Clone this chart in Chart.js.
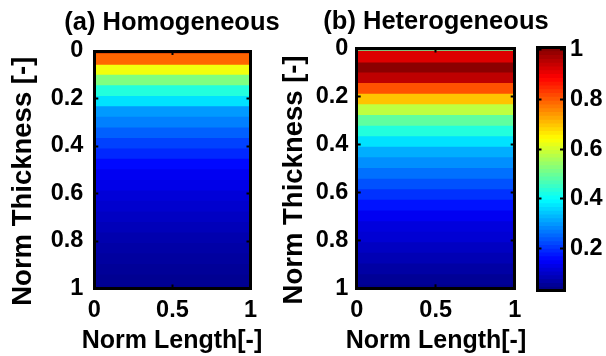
<!DOCTYPE html>
<html><head><meta charset="utf-8">
<script src="https://cdn.jsdelivr.net/npm/chart.js@4.4.1/dist/chart.umd.min.js"></script>
<style>
html,body{margin:0;padding:0;background:#fff;width:606px;height:356px;overflow:hidden;}
canvas{position:absolute;top:0;}
</style></head><body>
<canvas id="ca" width="344" height="356" style="left:0px"></canvas>
<canvas id="cb" width="332" height="356" style="left:270px"></canvas>
<canvas id="cc" width="86" height="356" style="left:520px"></canvas>
<script>
// Band boundaries along the normalised thickness (0 = surface, 1 = bottom)
const thickness = [0, 0.009, 0.058, 0.1, 0.144, 0.189, 0.233, 0.277, 0.322, 0.366, 0.41, 0.454, 0.498,
                   0.543, 0.587, 0.631, 0.676, 0.72, 0.764, 0.808, 0.852, 0.897, 0.941, 0.985, 1];
// Value in each band (one per interval of `thickness`)
const homogeneous = [0.98, 0.79, 0.63, 0.52, 0.43, 0.37, 0.30, 0.275, 0.245, 0.215, 0.19, 0.16,
                     0.14, 0.13, 0.115, 0.105, 0.095, 0.085, 0.075, 0.067, 0.06, 0.054, 0.048, 0.044];
const heterogeneous = [0.49, 0.92, 1.0, 0.95, 0.81, 0.70, 0.58, 0.49, 0.43, 0.37, 0.32, 0.29,
                       0.26, 0.23, 0.20, 0.17, 0.14, 0.12, 0.11, 0.094, 0.08, 0.065, 0.052, 0.042];
const thicknessTicks = [0, 0.2, 0.4, 0.6, 0.8, 1];
const lengthTicks = [0, 0.5, 1];
const colorTicks = [0.2, 0.4, 0.6, 0.8, 1];
const colorRange = [0.03, 1.01];
const panelTitles = ['(a) Homogeneous', '(b) Heterogeneous'];
const xLabel = 'Norm Length[-]';
const yLabel = 'Norm Thickness [-]';

Chart.defaults.font.family = "'Liberation Sans', Arial, sans-serif";
Chart.defaults.font.weight = 'bold';
Chart.defaults.color = '#000';

function jet(v) {
  let t = (v - colorRange[0]) / (colorRange[1] - colorRange[0]);
  t = Math.min(1, Math.max(0, t));
  const c = k => Math.round(255 * Math.min(1, Math.max(0, 1.5 - Math.abs(4 * t - k))));
  return 'rgb(' + c(3) + ',' + c(2) + ',' + c(1) + ')';
}

function bandSets(values) {
  // each band: its upper edge, filled down to the bottom of the axis; drawn top band first
  return values.map((v, k) => ({
    data: [{x: 0, y: thickness[k]}, {x: 1, y: thickness[k]}],
    backgroundColor: jet(v), borderWidth: 0, pointRadius: 0, fill: 'start'
  })).reverse();
}

const TL = -4; // inward tick marks
const borderOpt = {display: true, width: 3, color: '#000', z: 1};
const tickGrid = {display: true, drawOnChartArea: false, drawTicks: true, tickLength: TL, tickWidth: 2, tickColor: '#000', lineWidth: 3, z: 1};
const noGrid = {display: false, drawTicks: false, lineWidth: 3};
const setTicks = arr => s => { s.ticks = arr.map(v => ({value: v})); };
const fmt = v => String(v);
const tickFont = {size: 23.5, weight: 'bold'};

function panelOptions(title, cfg) {
  return {
    responsive: false, animation: false, events: [],
    layout: {padding: 0},
    plugins: {
      legend: {display: false}, tooltip: {enabled: false},
      title: {display: true, text: title, color: '#000',
              font: {size: 25.5, weight: 'bold', lineHeight: 1},
              padding: {top: cfg.titleTop, bottom: cfg.titleBottom}}
    },
    scales: {
      x: {type: 'linear', position: 'bottom', min: 0, max: 1,
          afterBuildTicks: setTicks(lengthTicks), afterFit: s => { s.height = cfg.xHeight - 28; },
          grid: tickGrid, border: borderOpt,
          ticks: {font: tickFont, color: '#000', padding: 8 - TL, maxRotation: 0, autoSkip: false, callback: fmt}},
      xName: {type: 'linear', position: 'bottom', fullSize: true, weight: 5, min: 0, max: 1, display: true,
              ticks: {display: false}, grid: noGrid, border: {display: false},
              afterFit: s => { s.height = 28; },
              title: {display: true, text: xLabel, color: '#000', font: {size: 25, weight: 'bold', lineHeight: 1}, padding: {top: 0, bottom: 2}}},
      y: {type: 'linear', position: 'left', reverse: true, min: 0, max: 1,
          afterBuildTicks: setTicks(thicknessTicks), afterFit: s => { s.width = cfg.yWidth; },
          grid: tickGrid, border: borderOpt,
          ticks: {font: tickFont, color: '#000', padding: cfg.yTickPad - TL, autoSkip: false, callback: fmt},
          title: {display: true, text: yLabel + '   ', color: '#000', font: {size: 27.5, weight: 'bold', lineHeight: 1}, padding: {top: cfg.yTitlePad, bottom: 0}}},
      xTop: {type: 'linear', position: 'top', min: 0, max: 1, display: true,
             afterBuildTicks: setTicks(lengthTicks),
             ticks: {display: false}, grid: tickGrid, border: borderOpt, afterFit: s => { s.height = 0; }},
      yRight: {type: 'linear', position: 'right', reverse: true, min: 0, max: 1, display: true,
               afterBuildTicks: setTicks(thicknessTicks),
               ticks: {display: false}, grid: tickGrid, border: borderOpt, afterFit: s => { s.width = cfg.rightWidth; }}
    }
  };
}

new Chart(document.getElementById('ca'), {
  type: 'line',
  data: {datasets: bandSets(homogeneous)},
  options: panelOptions(panelTitles[0], {rightWidth: 93.5, titleTop: 10, titleBottom: 15.5, xHeight: 67.5, yWidth: 94.3, yTickPad: 11, yTitlePad: 10})
});

new Chart(document.getElementById('cb'), {
  type: 'line',
  data: {datasets: bandSets(heterogeneous)},
  options: panelOptions(panelTitles[1], {rightWidth: 87.3, titleTop: 9, titleBottom: 14, xHeight: 67.7, yWidth: 86.7, yTickPad: 8.4, yTitlePad: 11})
});

// colour bar: 64 steps of the jet colour map
const levels = 64;
const cbarSets = [];
for (let i = 0; i < levels; i++) {
  const span = colorRange[1] - colorRange[0];
  const top = colorRange[0] + (i + 1) / levels * span;
  const mid = colorRange[0] + (i + 0.5) / levels * span;
  cbarSets.push({data: [{x: 0, y: top}, {x: 1, y: top}], backgroundColor: jet(mid), borderWidth: 0, pointRadius: 0, fill: 'start'});
}

new Chart(document.getElementById('cc'), {
  type: 'line',
  data: {datasets: cbarSets},
  options: {
    responsive: false, animation: false, events: [],
    layout: {padding: {left: 17.5, right: 0, top: 47.5, bottom: 65.5}},
    plugins: {legend: {display: false}, tooltip: {enabled: false}, title: {display: false}},
    scales: {
      x: {type: 'linear', position: 'bottom', min: 0, max: 1, ticks: {display: false}, grid: noGrid, border: borderOpt, afterFit: s => { s.height = 0; }},
      xTop: {type: 'linear', position: 'top', min: 0, max: 1, display: true, ticks: {display: false}, grid: noGrid, border: borderOpt, afterFit: s => { s.height = 0; }},
      yLeft: {type: 'linear', position: 'left', min: colorRange[0], max: colorRange[1], display: true,
              afterBuildTicks: setTicks(colorTicks),
              ticks: {display: false}, grid: tickGrid, border: borderOpt, afterFit: s => { s.width = 0; }},
      y: {type: 'linear', position: 'right', min: colorRange[0], max: colorRange[1],
          afterBuildTicks: setTicks(colorTicks), afterFit: s => { s.width = 42; },
          grid: tickGrid, border: borderOpt,
          ticks: {font: tickFont, color: '#000', padding: 6 - TL, autoSkip: false, callback: fmt}}
    }
  }
});
</script>
</body></html>
